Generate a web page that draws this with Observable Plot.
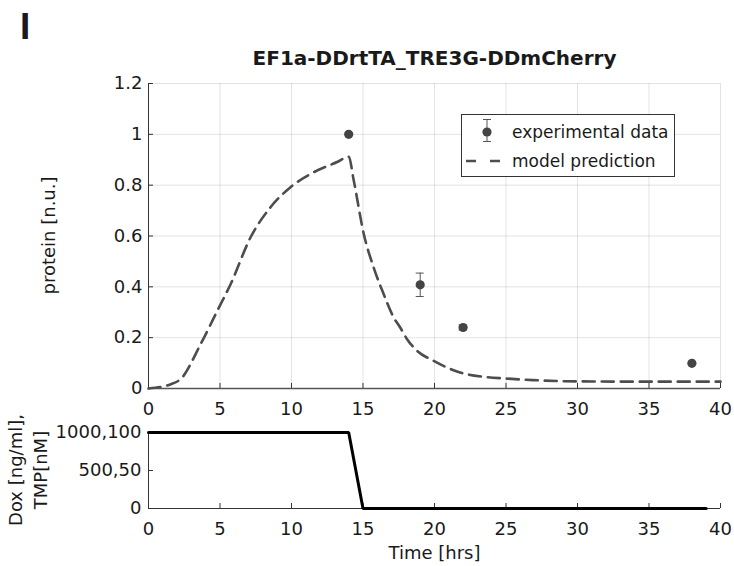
<!DOCTYPE html>
<html><head><meta charset="utf-8">
<script src="https://cdn.jsdelivr.net/npm/d3@7"></script>
<script src="https://cdn.jsdelivr.net/npm/@observablehq/plot@0.6"></script>
<style>
html,body{margin:0;padding:0;background:#fff;}
#chart{position:relative;width:734px;height:566px;overflow:hidden;}
#chart svg{position:absolute;left:0;}
</style></head><body><div id="chart"></div>
<script>
// ---- data ----
const xTicks = [0, 5, 10, 15, 20, 25, 30, 35, 40];
const yTicks = [0, 0.2, 0.4, 0.6, 0.8, 1, 1.2];
const yTickLabels = ["0", "0.2", "0.4", "0.6", "0.8", "1", "1.2"];
const doxTicks = [0, 500, 1000];
const doxTickLabels = ["0", "500,50", "1000,100"];

const expTime = [14, 19, 22, 38];
const expMean = [1.0, 0.408, 0.240, 0.099];
const expErr  = [0.0, 0.046, 0.010, 0.0];

const modelTime  = [0, 1.56, 2.25, 3.65, 4.93, 5.74, 7.14, 8.53, 9.93, 11.56, 13.19, 14.0,
                    14.35, 15.05, 15.74, 16.44, 17.14, 17.6, 18.07, 18.77, 19.93, 21.79,
                    23.42, 25.05, 26.9, 29.94, 35, 40];
const modelValue = [0, 0.017, 0.037, 0.175, 0.319, 0.41, 0.595, 0.713, 0.792, 0.851, 0.891, 0.912,
                    0.819, 0.609, 0.477, 0.372, 0.28, 0.24, 0.195, 0.149, 0.109, 0.063,
                    0.046, 0.039, 0.033, 0.028, 0.027, 0.027];

const doxTime  = [0, 14, 15, 39];
const doxLevel = [1000, 1000, 0, 0];

const titleText = "EF1a-DDrtTA_TRE3G-DDmCherry";
const panelLetter = "I";
const yLabelTop = "protein [n.u.]";
const yLabelBottom = ["Dox [ng/ml],", "TMP[nM]"];
const xLabel = "Time [hrs]";
const legendLabels = ["experimental data", "model prediction"];

(function () {
// ---- tables ----
const exp = expTime.map((t, i) => ({t, m: expMean[i], e: expErr[i]}));
const model = modelTime.map((t, i) => ({t, v: modelValue[i]}));
const dox = doxTime.map((t, i) => ({t, v: doxLevel[i]}));
const yLab = new Map(yTicks.map((d, i) => [d, yTickLabels[i]]));
const doxLab = new Map(doxTicks.map((d, i) => [d, doxTickLabels[i]]));

const FONT = "DejaVu Sans, sans-serif";
const TXT = "#1a1a1a";
const AX = "#333333";
const chart = document.getElementById("chart");

// ---- top panel ----
const topPlot = Plot.plot({
  width: 734, height: 420,
  marginTop: 83, marginBottom: 32, marginLeft: 148, marginRight: 14,
  style: {fontFamily: FONT, fontSize: "18px", color: TXT, background: "transparent"},
  x: {domain: [0, 40]},
  y: {domain: [0, 1.2]},
  marks: [
    Plot.gridX({ticks: xTicks, stroke: "#000", strokeOpacity: 0.11}),
    Plot.gridY({ticks: yTicks, stroke: "#000", strokeOpacity: 0.11}),
    Plot.axisX({ticks: xTicks, tickSize: 0, tickPadding: 14, label: null, tickFormat: d => String(d)}),
    Plot.axisY({ticks: yTicks, tickSize: 0, tickPadding: 6, label: null, tickFormat: d => yLab.get(d)}),
    Plot.ruleX(xTicks, {x: d => d, y1: 0, y2: 0.02, stroke: AX}),
    Plot.ruleY(yTicks, {y: d => d, x1: 0, x2: 0.35, stroke: AX}),
    Plot.ruleY([0], {stroke: "#555", strokeWidth: 1.5}),
    Plot.ruleX([0], {stroke: AX}),
    Plot.line(model, {x: "t", y: "v", stroke: "#4d4d4d", strokeWidth: 2.6, strokeDasharray: "12,7", curve: "monotone-x"}),
    Plot.ruleX(exp.filter(d => d.e > 0), {x: "t", y1: d => d.m - d.e, y2: d => d.m + d.e, stroke: "#555", strokeWidth: 1}),
    Plot.ruleY(exp.filter(d => d.e > 0), {y: d => d.m - d.e, x1: d => d.t - 0.28, x2: d => d.t + 0.28, stroke: "#555", strokeWidth: 1}),
    Plot.ruleY(exp.filter(d => d.e > 0), {y: d => d.m + d.e, x1: d => d.t - 0.28, x2: d => d.t + 0.28, stroke: "#555", strokeWidth: 1}),
    Plot.dot(exp, {x: "t", y: "m", r: 4.6, fill: "#444", stroke: null})
  ]
});
topPlot.style.top = "0px";
chart.appendChild(topPlot);

// ---- bottom panel ----
const bottomPlot = Plot.plot({
  width: 734, height: 146,
  marginTop: 12, marginBottom: 58, marginLeft: 148, marginRight: 14,
  style: {fontFamily: FONT, fontSize: "18px", color: TXT, background: "transparent"},
  x: {domain: [0, 40]},
  y: {domain: [0, 1000]},
  marks: [
    Plot.axisX({ticks: xTicks, tickSize: 0, tickPadding: 14, label: null, tickFormat: d => String(d)}),
    Plot.axisY({ticks: doxTicks, tickSize: 0, tickPadding: 7, label: null, tickFormat: d => doxLab.get(d)}),
    Plot.ruleX(xTicks, {x: d => d, y1: 0, y2: 66, stroke: AX}),
    Plot.ruleY(doxTicks, {y: d => d, x1: 0, x2: 0.35, stroke: AX}),
    Plot.ruleY([0], {stroke: AX}),
    Plot.ruleX([0], {stroke: AX}),
    Plot.line(dox, {x: "t", y: "v", stroke: "#000", strokeWidth: 3, strokeLinejoin: "miter"})
  ]
});
bottomPlot.style.top = "420px";
chart.appendChild(bottomPlot);

// ---- labels, title, legend ----
const ov = d3.create("svg").attr("width", 734).attr("height", 566)
  .style("top", "0px").style("pointer-events", "none")
  .attr("font-family", FONT).attr("fill", TXT);

ov.append("text").attr("x", 20).attr("y", 39)
  .attr("font-family", "Liberation Sans, Arial, sans-serif").attr("font-weight", "bold").attr("font-size", 37)
  .text(panelLetter);
ov.append("text").attr("x", 434.5).attr("y", 65).attr("text-anchor", "middle")
  .attr("font-weight", "bold").attr("font-size", 20).text(titleText);
ov.append("text").attr("transform", "translate(55,235.5) rotate(-90)").attr("text-anchor", "middle")
  .attr("font-size", 18).text(yLabelTop);
ov.append("text").attr("transform", "translate(22,470) rotate(-90)").attr("text-anchor", "middle")
  .attr("font-size", 18).text(yLabelBottom[0]);
ov.append("text").attr("transform", "translate(47,470) rotate(-90)").attr("text-anchor", "middle")
  .attr("font-size", 18).text(yLabelBottom[1]);
ov.append("text").attr("x", 434.5).attr("y", 559).attr("text-anchor", "middle")
  .attr("font-size", 18).text(xLabel);

// legend
const lg = ov.append("g").attr("transform", "translate(461,114)");
lg.append("rect").attr("x", 0.5).attr("y", 0.5).attr("width", 213).attr("height", 62)
  .attr("fill", "#fff").attr("stroke", "#333").attr("stroke-width", 1);
lg.append("line").attr("x1", 26).attr("x2", 26).attr("y1", 5.5).attr("y2", 27.5).attr("stroke", "#555");
lg.append("line").attr("x1", 22).attr("x2", 30).attr("y1", 5.5).attr("y2", 5.5).attr("stroke", "#555");
lg.append("line").attr("x1", 22).attr("x2", 30).attr("y1", 27.5).attr("y2", 27.5).attr("stroke", "#555");
lg.append("circle").attr("cx", 26).attr("cy", 18).attr("r", 4.6).attr("fill", "#444");
lg.append("line").attr("x1", 5).attr("x2", 39).attr("y1", 47).attr("y2", 47)
  .attr("stroke", "#4d4d4d").attr("stroke-width", 2.6).attr("stroke-dasharray", "10,14");
lg.append("text").attr("x", 51).attr("y", 18).attr("dy", "0.35em").attr("font-size", 17).text(legendLabels[0]);
lg.append("text").attr("x", 51).attr("y", 47).attr("dy", "0.35em").attr("font-size", 17).text(legendLabels[1]);

chart.appendChild(ov.node());
})();
</script></body></html>
